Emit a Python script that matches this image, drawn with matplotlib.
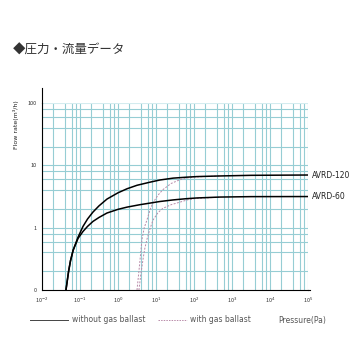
"""
Pressure / flow rate chart (AVRD-60, AVRD-120).
"""
import numpy as np
import matplotlib
matplotlib.use('Agg')
import matplotlib.pyplot as plt

plt.rcParams['font.family'] = ['Noto Sans CJK JP', 'DejaVu Sans']

# without gas ballast (solid)
p_120 = [0.0427, 0.0501, 0.0562, 0.066, 0.0891, 0.12, 0.158, 0.219, 0.316,
         0.513, 1, 1.74, 3.16, 6.92, 12.6, 28.2, 63.1, 120, 479, 3160, 1e5]
q_120 = [0.1, 0.2, 0.295, 0.436, 0.708, 1.05, 1.38, 1.78, 2.24,
         2.88, 3.63, 4.22, 4.79, 5.37, 5.82, 6.24, 6.46, 6.61, 6.76, 6.92, 7.0]
p_60 = [0.0427, 0.0501, 0.0562, 0.066, 0.0891, 0.12, 0.158, 0.219, 0.316,
        0.513, 1, 1.74, 3.8, 6.92, 12.6, 28.2, 63.1, 120, 479, 3160, 1e5]
q_60 = [0.1, 0.2, 0.295, 0.436, 0.676, 0.871, 1.05, 1.26, 1.46, 1.72, 1.97,
        2.14, 2.34, 2.48, 2.63, 2.79, 2.92, 3.0, 3.1, 3.15, 3.16]

# with gas ballast (dashed)
pg_120 = [3.16, 3.55, 3.89, 4.27, 4.9, 5.75, 6.92, 8.32, 11.2, 15.1, 25.1,
          42.7, 70.8, 120, 479]
qg_120 = [0.1, 0.2, 0.355, 0.646, 1.0, 1.32, 1.91, 2.51, 3.31, 4.07, 5.13,
          5.89, 6.31, 6.53, 6.76]
pg_60 = [3.55, 3.98, 4.57, 5.01, 5.75, 6.92, 8.32, 11.2, 15.1, 25.1, 42.7,
         70.8, 120, 479]
qg_60 = [0.1, 0.178, 0.316, 0.447, 0.646, 0.955, 1.32, 1.74, 2.04, 2.34,
         2.57, 2.82, 2.95, 3.09]

x_ticks = [1e-2, 1e-1, 1e0, 1e1, 1e2, 1e3, 1e4, 1e5]
x_labels = ['10$^{-2}$', '10$^{-1}$', '10$^{0}$', '10$^{1}$', '10$^{2}$',
            '10$^{3}$', '10$^{4}$', '10$^{5}$']
y_ticks = [0.1, 1, 10, 100]
y_labels = ['0', '1', '10', '100']

grid_color = '#96cdd4'
dash_color = '#b88aa8'

fig = plt.figure(figsize=(3.6, 3.6), dpi=100)
ax = fig.add_axes([0.1167, 0.1944, 0.7389, 0.5194])
ax.set_xscale('log')
ax.set_yscale('log')
ax.set_xlim(1e-2, 1e5)
ax.set_ylim(0.1, 100)

# grid: decades + 2,4,6,8
for dec in range(-2, 5):
    for s in [1, 2, 4, 6, 8]:
        ax.axvline(s * 10.0 ** dec, color=grid_color, lw=0.8, zorder=0)
ax.axvline(1e5, color=grid_color, lw=0.8, zorder=0)
for dec in range(-1, 2):
    for s in [1, 2, 4, 6, 8]:
        v = s * 10.0 ** dec
        if v > 0.1:
            ax.axhline(v, color=grid_color, lw=0.8, zorder=0)
ax.axhline(100, color='#d4ecef', lw=0.8, zorder=0)

ax.plot(p_120, q_120, color='black', lw=1.1, zorder=3)
ax.plot(p_60, q_60, color='black', lw=1.1, zorder=3)
ax.plot(pg_120, qg_120, color=dash_color, lw=0.7, ls=(0, (2, 1.5)), zorder=2)
ax.plot(pg_60, qg_60, color=dash_color, lw=0.7, ls=(0, (2, 1.5)), zorder=2)

ax.set_xticks(x_ticks)
ax.set_xticklabels(x_labels, fontsize=4, color='#333333')
ax.set_yticks(y_ticks)
ax.set_yticklabels(y_labels, fontsize=4, color='#333333')
ax.minorticks_off()
ax.tick_params(length=0, pad=4)

for side in ['top', 'right']:
    ax.spines[side].set_visible(False)
ax.spines['left'].set_linewidth(0.8)
ax.spines['bottom'].set_linewidth(0.8)
ax.plot([0, 0], [1.0, 1.08], transform=ax.transAxes, color='black',
        lw=0.8, clip_on=False)
ax.plot([1.0, 1.008], [0, 0], transform=ax.transAxes, color='black',
        lw=0.8, clip_on=False)

ax.text(1.015, 7.0, 'AVRD-120', transform=ax.get_yaxis_transform(),
        fontsize=5.5, color='#222222', va='center', ha='left',
        family='DejaVu Sans')
ax.text(1.015, 3.15, 'AVRD-60', transform=ax.get_yaxis_transform(),
        fontsize=5.5, color='#222222', va='center', ha='left',
        family='DejaVu Sans')

fig.text(16 / 360, 1 - 125 / 360, 'Flow rate(m³/h)', rotation=90,
         fontsize=4.5, color='#222222', ha='center', va='center',
         family='DejaVu Sans')

fig.text(13 / 360, 1 - 50 / 360, '◆圧力・流量データ', fontsize=9,
         color='#333333', ha='left', va='center')

# legend row
ly = 1 - 320 / 360
fig.add_artist(plt.Line2D([30 / 360, 68 / 360], [ly, ly], color='#444444',
                          lw=0.7))
fig.text(72 / 360, ly, 'without gas ballast', fontsize=5.5, color='#555555',
         ha='left', va='center', family='DejaVu Sans')
fig.add_artist(plt.Line2D([158 / 360, 187 / 360], [ly, ly], color=dash_color,
                          lw=0.7, ls=(0, (1.5, 1.2))))
fig.text(190 / 360, ly, 'with gas ballast', fontsize=5.5, color='#555555',
         ha='left', va='center', family='DejaVu Sans')
fig.text(278 / 360, ly, 'Pressure(Pa)', fontsize=5.5, color='#555555',
         ha='left', va='center', family='DejaVu Sans')

fig.savefig('out.png', dpi=100)
